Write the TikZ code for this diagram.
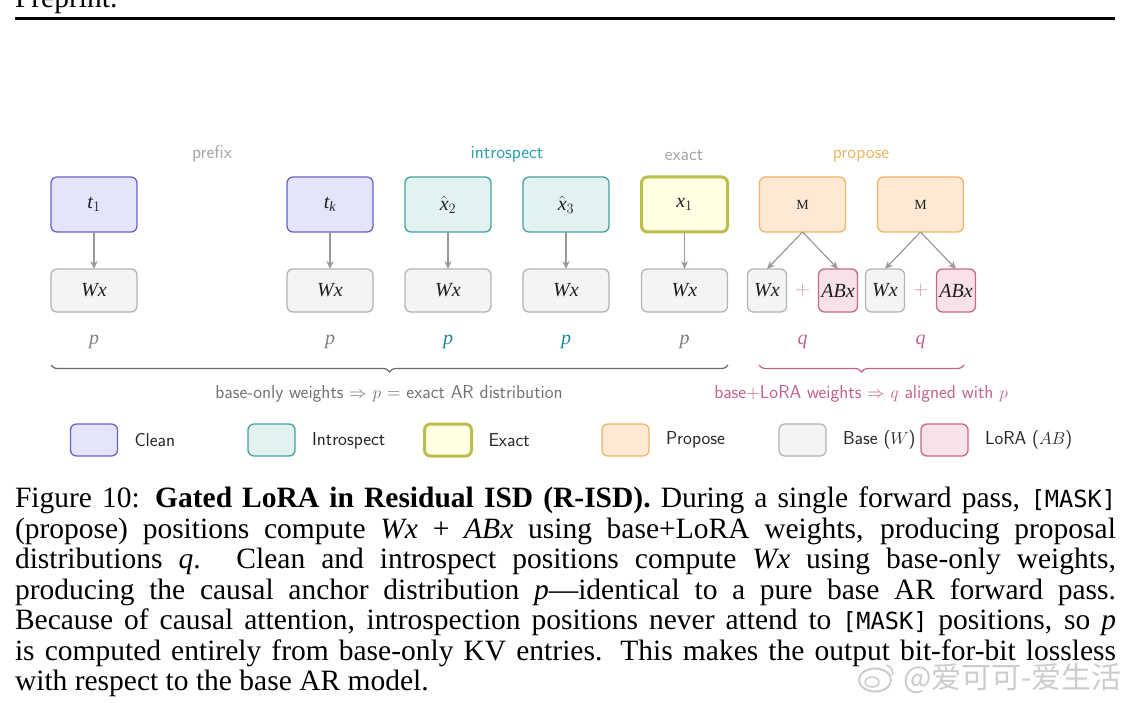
\documentclass[tikz,border=0pt]{standalone}
\usepackage{fontspec}
\setmainfont{Liberation Serif}
\setmonofont{DejaVu Sans Mono}[Scale=0.8]
\newfontfamily\cjk{Noto Sans CJK SC}
\usepackage{xcolor}
\usetikzlibrary{arrows.meta,positioning,decorations.pathreplacing}

\definecolor{cleanfill}{HTML}{E4E4FB}
\definecolor{cleanline}{HTML}{6464C8}
\definecolor{introfill}{HTML}{E1F2F1}
\definecolor{introline}{HTML}{45A0A0}
\definecolor{exactfill}{HTML}{FFFFE3}
\definecolor{exactline}{HTML}{BDBD4B}
\definecolor{propfill}{HTML}{FFE9D4}
\definecolor{propline}{HTML}{EDB566}
\definecolor{basefill}{HTML}{F4F4F4}
\definecolor{baseline}{HTML}{B4B4B4}
\definecolor{lorafill}{HTML}{F8E1E9}
\definecolor{loraline}{HTML}{C4678F}
\definecolor{intropink}{HTML}{C4628E}
\definecolor{tagteal}{HTML}{2E9FB0}
\definecolor{pteal}{HTML}{1E88A0}

\begin{document}
\begin{tikzpicture}[x=1pt, y=-1pt, >={Stealth[length=8pt,width=7pt]}, every node/.style={inner sep=0pt, outer sep=0pt},
	tok/.style={rectangle, rounded corners=6pt, draw, minimum width=86pt, minimum height=55pt, line width=1.3pt, text=black!88, font=\fontsize{20}{22}\selectfont},
	clean/.style={tok, fill=cleanfill, draw=cleanline},
	intro/.style={tok, fill=introfill, draw=introline},
	exact/.style={tok, fill=exactfill, draw=exactline, line width=3pt},
	prop/.style={tok, fill=propfill, draw=propline},
	wxbox/.style={tok, fill=basefill, draw=baseline, minimum height=43pt},
	wxsmall/.style={wxbox, minimum width=39pt},
	abx/.style={wxsmall, fill=lorafill, draw=loraline},
	legbox/.style={rectangle, rounded corners=6pt, draw, minimum width=47pt, minimum height=32pt, line width=1.3pt},
	leglabel/.style={font=\sffamily\fontsize{18.7}{21}\selectfont, text=black!85, anchor=west},
	tag/.style={font=\sffamily\fontsize{18.7}{21}\selectfont, anchor=base},
	dist/.style={font=\fontsize{20}{22}\selectfont, anchor=base},
	link/.style={->, draw=black!40, line width=1.2pt},
	note/.style={font=\sffamily\fontsize{18.7}{21}\selectfont, anchor=base},
	markline/.style={decorate, decoration={brace, mirror, amplitude=7pt}, line width=1.2pt}]

	\useasboundingbox (0,0) rectangle (1134,703);

	\node[anchor=base west, font=\fontsize{29.5}{31}\selectfont] (running) at (15,8) {Preprint.};
	\coordinate (ruleL) at (15,18.5);
	\coordinate (ruleR) at (1115,18.5);
	\draw[line width=3.5pt] (ruleL) -- (ruleR);

	\node[tag, text=black!35] (tagprefix) at (212,158.5) {prefix};
	\node[tag, text=tagteal] (tagintro) at (507,158.5) {introspect};
	\node[tag, text=black!35] (tagexact) at (684,160.5) {exact};
	\node[tag, text=propline] (tagprop) at (861,158.5) {propose};

	\node[clean] (t1) at (94,204.5) {$\mathit{t}_1$};
	\node[clean] (tk) at (330,204.5) {$\mathit{t}_{\mathit{k}}$};
	\node[intro] (x2) at (448,204.5) {$\hat{\mathit{x}}_2$};
	\node[intro] (x3) at (566,204.5) {$\hat{\mathit{x}}_3$};
	\node[exact] (x1) at (684.5,204.5) {$\mathit{x}_1$};
	\node[prop, font=\fontsize{14}{16}\selectfont] (m1) at (802.5,204.5) {M};
	\node[prop, font=\fontsize{14}{16}\selectfont] (m2) at (920.5,204.5) {M};

	\node[wxbox, below=37pt of t1] (w1) {$\mathit{Wx}$};
	\node[wxbox, below=37pt of tk] (wk) {$\mathit{Wx}$};
	\node[wxbox, below=37pt of x2] (w2) {$\mathit{Wx}$};
	\node[wxbox, below=37pt of x3] (w3) {$\mathit{Wx}$};
	\node[wxbox, below=37pt of x1] (wx1) {$\mathit{Wx}$};
	\node[wxsmall] (wa) at (767,290.5) {$\mathit{Wx}$};
	\node[abx, right=32pt of wa] (aba) {$\mathit{ABx}$};
	\node[wxsmall, right=8pt of aba] (wb) {$\mathit{Wx}$};
	\node[abx, right=32pt of wb] (abb) {$\mathit{ABx}$};
	\node[font=\fontsize{20}{22}\selectfont, text=loraline!70] (plusa) at (802.5,290.5) {$+$};
	\node[font=\fontsize{20}{22}\selectfont, text=loraline!70] (plusb) at (920.5,290.5) {$+$};

	\draw[link] (t1) -- (w1);
	\draw[link] (tk) -- (wk);
	\draw[link] (x2) -- (w2);
	\draw[link] (x3) -- (w3);
	\draw[link] (x1) -- (wx1);
	\draw[link] (m1.south) -- (wa.north);
	\draw[link] (m1.south) -- (aba.north);
	\draw[link] (m2.south) -- (wb.north);
	\draw[link] (m2.south) -- (abb.north);

	\node[dist, text=black!50] (p1) at (94,344) {$\mathit{p}$};
	\node[dist, text=black!50] (pk) at (330,344) {$\mathit{p}$};
	\node[dist, text=pteal] (p2) at (448,344) {$\mathit{p}$};
	\node[dist, text=pteal] (p3) at (566,344) {$\mathit{p}$};
	\node[dist, text=black!50] (px) at (684.5,344) {$\mathit{p}$};
	\node[dist, text=intropink] (qa) at (802.5,344) {$\mathit{q}$};
	\node[dist, text=intropink] (qb) at (920.5,344) {$\mathit{q}$};

	\coordinate (baseL) at (51,365);
	\coordinate (baseR) at (728,365);
	\coordinate (loraL) at (759,365);
	\coordinate (loraR) at (964,365);
	\draw[markline, draw=black!58] (baseL) -- (baseR);
	\draw[markline, draw=intropink] (loraL) -- (loraR);

	\node[note, text=black!55] (notebase) at (389,398) {base-only weights $\Rightarrow$ $p$ = exact AR distribution};
	\node[note, text=intropink] (notelora) at (861,398) {base+LoRA weights $\Rightarrow$ $q$ aligned with $p$};

	\node[legbox, fill=cleanfill, draw=cleanline] (legclean) at (94,440) {};
	\node[leglabel, right=17pt of legclean] (labclean) {Clean};
	\node[legbox, fill=introfill, draw=introline] (legintro) at (271.5,440) {};
	\node[leglabel, right=17pt of legintro, yshift=-1pt] (labintro) {Introspect};
	\node[legbox, fill=exactfill, draw=exactline, line width=3pt] (legexact) at (448,440) {};
	\node[leglabel, right=17pt of legexact] (labexact) {Exact};
	\node[legbox, fill=propfill, draw=propline] (legprop) at (625.5,440) {};
	\node[leglabel, right=17pt of legprop] (labprop) {Propose};
	\node[legbox, fill=basefill, draw=baseline] (legbase) at (802.5,440) {};
	\node[leglabel, right=17pt of legbase] (labbase) {Base ($W$)};
	\node[legbox, fill=lorafill, draw=loraline] (leglora) at (944.5,440) {};
	\node[leglabel, right=17pt of leglora] (lablora) {LoRA ($AB$)};

	\node[anchor=north west, text width=1101pt, align=justify, font=\fontsize{29.5}{30.5}\selectfont] (caption) at (15,487) {Figure 10: \textbf{Gated LoRA in Residual ISD (R-ISD).} During a single forward pass, \texttt{[MASK]}\linebreak
	(propose) positions compute \textit{Wx} + \textit{ABx} using base+LoRA weights, producing proposal\linebreak
	distributions \textit{q}. Clean and introspect positions compute \textit{Wx} using base-only weights,\linebreak
	producing the causal anchor distribution \textit{p}---identical to a pure base AR forward pass.\linebreak
	Because of causal attention, introspection positions never attend to \texttt{[MASK]} positions, so \textit{p}\linebreak
	is computed entirely from base-only KV entries. This makes the output bit-for-bit lossless\linebreak
	with respect to the base AR model.};

	\draw[black!20, line width=2pt] (875,680) ellipse (16 and 11.5);
	\draw[black!20, line width=1.5pt] (872,682) ellipse (7 and 5);
	\draw[black!20, line width=1.5pt] (886,665) arc (-80:20:8);
	\node[anchor=west, font=\cjk\fontsize{30}{32}\selectfont, text=black!20] (stamp) at (903,678) {@爱可可-爱生活};
\end{tikzpicture}
\end{document}
